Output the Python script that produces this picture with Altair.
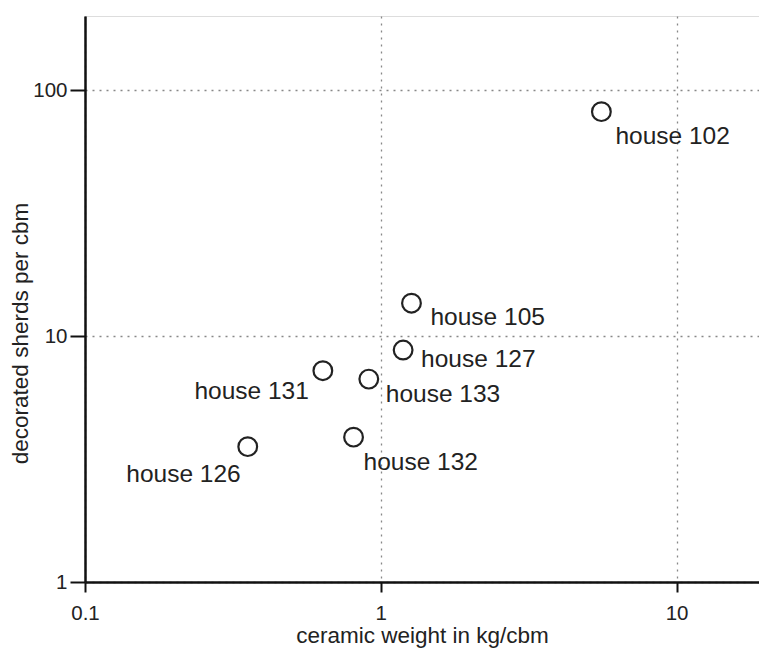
import altair as alt
import pandas as pd

houses = ["house 102", "house 105", "house 127", "house 131", "house 133", "house 132", "house 126"]
ceramic_weight = [5.57, 1.27, 1.19, 0.637, 0.911, 0.809, 0.355]
decorated_sherds = [81.7, 13.6, 8.77, 7.23, 6.68, 3.88, 3.55]

x_ticks = [0.1, 1, 10]
y_ticks = [1, 10, 100]

df = pd.DataFrame({"house": houses, "x": ceramic_weight, "y": decorated_sherds})

FONT = "Liberation Sans"
TXT = "#222222"

xs = alt.Scale(type="log", domain=[0.1, 19], nice=False)
ys = alt.Scale(type="log", domain=[1, 200], nice=False)

common = dict(
    format="~g", grid=True, gridDash=[2, 5], gridColor="#888888", gridWidth=1.3,
    domainColor="#111111", domainWidth=2.5, tickColor="#111111", tickWidth=2,
    labelFontSize=20.5, labelFont=FONT, labelColor=TXT, labelFlush=False,
    titleFont=FONT, titleFontSize=22.5, titleFontWeight="normal", titleColor=TXT,
)
ax_x = alt.Axis(values=x_ticks, tickSize=10, labelPadding=11, titlePadding=1, **common)
ax_y = alt.Axis(values=y_ticks, tickSize=15, labelPadding=3,
                titleX=-65, titleY=317, titleAngle=270, titleAlign="center",
                titleBaseline="middle", **common)

X = alt.X("x:Q", scale=xs, title="ceramic weight in kg/cbm", axis=ax_x)
Y = alt.Y("y:Q", scale=ys, title="decorated sherds per cbm", axis=ax_y)

base = alt.Chart(df)

points = base.mark_point(shape="circle", filled=False, size=350, strokeWidth=2.2,
                         color="#222222", opacity=1).encode(x=X, y=Y)

# label placements (dx, dy, align) per house
placements = {
    "house 102": (14, 25, "left"),
    "house 105": (19, 15, "left"),
    "house 127": (18, 10, "left"),
    "house 133": (17, 16, "left"),
    "house 132": (10, 26, "left"),
    "house 131": (-14, 21, "right"),
    "house 126": (-7, 28, "right"),
}

layers = [points]
for h in houses:
    dx, dy, al = placements[h]
    layers.append(
        base.transform_filter(alt.datum.house == h).mark_text(
            align=al, baseline="middle", dx=dx, dy=dy, font=FONT, fontSize=24.5, color=TXT
        ).encode(x=X, y=Y, text="house:N")
    )

chart = alt.layer(*layers).properties(
    width=674, height=566,
    autosize=alt.AutoSizeParams(type="none"),
    padding={"left": 85, "top": 16, "right": 0, "bottom": 66},
).configure_view(stroke=None).configure(background="white")

chart.save("out.html", embed_options={"renderer": "svg", "actions": False})
